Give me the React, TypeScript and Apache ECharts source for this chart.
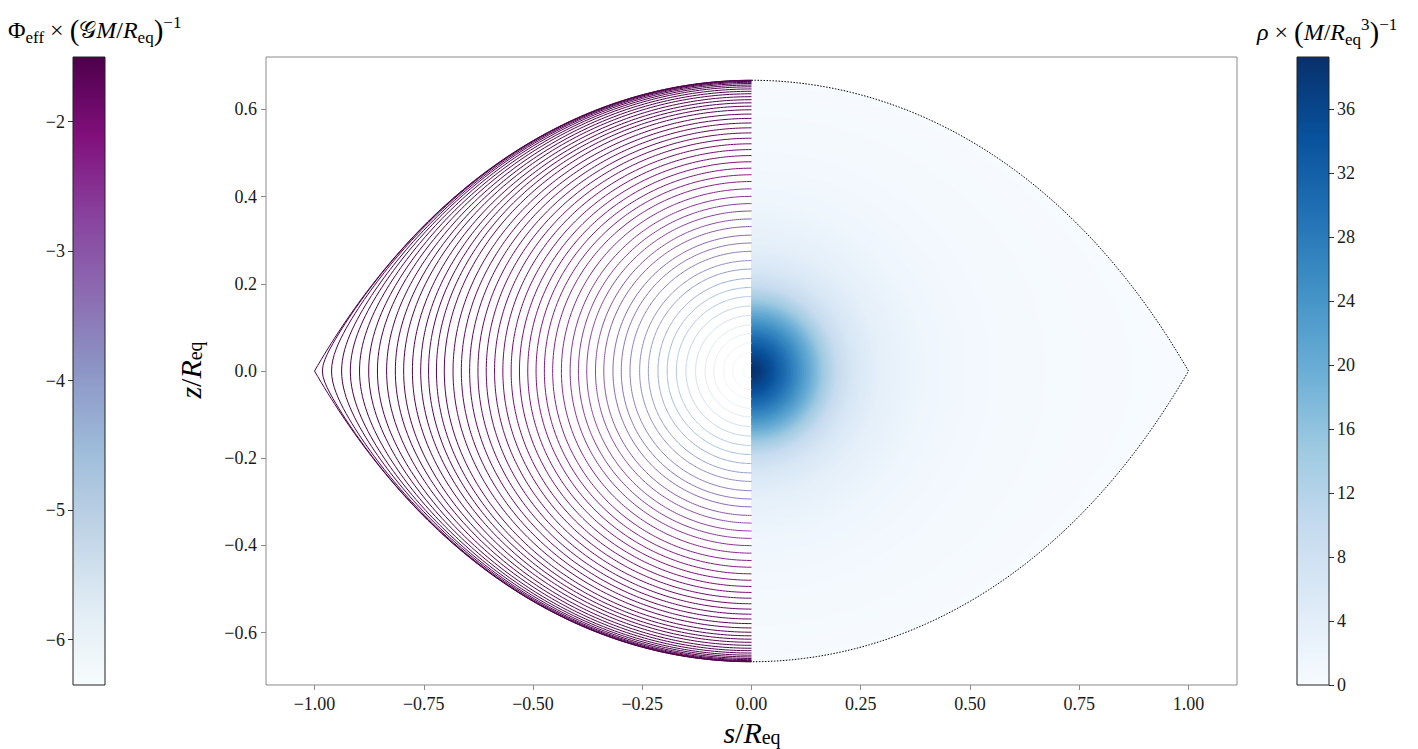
import React, { useEffect, useRef } from "react";
import * as echarts from "echarts";

// ---------- data ----------
const X_TICKS = [-1, -0.75, -0.5, -0.25, 0, 0.25, 0.5, 0.75, 1];
const Y_TICKS = [-0.6, -0.4, -0.2, 0, 0.2, 0.4, 0.6];
const PHI_TICKS = [-6, -5, -4, -3, -2];
const RHO_TICKS = [0, 4, 8, 12, 16, 20, 24, 28, 32, 36];
const X_RANGE = [-1.111, 1.111];
const Y_RANGE = [-0.72, 0.72];
const PHI_RANGE = [-6.35, -1.5];
const RHO_RANGE = [0, 39.25];

// equatorial radii (s / R_eq) of the plotted equipotential contours
const CONTOUR_EQ_RADII = [
  0.018, 0.043, 0.064, 0.086, 0.106, 0.128, 0.15, 0.172, 0.193, 0.214,
  0.236, 0.256, 0.278, 0.298, 0.317, 0.338, 0.357, 0.377, 0.396, 0.415,
  0.435, 0.455, 0.474, 0.493, 0.512, 0.531, 0.55, 0.569, 0.588, 0.607,
  0.626, 0.645, 0.664, 0.683, 0.703, 0.721, 0.739, 0.757, 0.776, 0.796,
  0.815, 0.835, 0.856, 0.876, 0.897, 0.918, 0.938, 0.961, 0.982, 1.0,
];

const RHO_PROFILE_S = [0, 0.02, 0.05, 0.08, 0.11, 0.14, 0.17, 0.2, 0.24, 0.3, 0.4, 0.55, 0.75, 1.0];
const RHO_PROFILE_V = [39.2, 38, 34.5, 30, 25, 19.5, 14, 9.5, 6, 3.5, 1.6, 0.75, 0.3, 0];

// colormaps
const BUPU = ["#f7fcfd", "#e0ecf4", "#bfd3e6", "#9ebcda", "#8c96c6", "#8c6bb1", "#88419d", "#810f7c", "#4d004b"];
const BLUES = ["#f7fbff", "#deebf7", "#c6dbef", "#9ecae1", "#6baed6", "#4292c6", "#2171b5", "#08519c", "#08306b"];

// mass model: Gaussian core + critical rotation (Omega^2 = GM/R_eq^3)
const CORE_RADIUS = 0.178;
const OMEGA2 = 1;

const SERIF = "'Liberation Serif','DejaVu Serif',serif";

// ---------- helpers ----------
function erf(x: number) {
  const sgn = x < 0 ? -1 : 1;
  const ax = Math.abs(x);
  const t = 1 / (1 + 0.3275911 * ax);
  const y = 1 - ((((1.061405429 * t - 1.453152027) * t + 1.421413741) * t - 0.284496736) * t + 0.254829592) * t * Math.exp(-ax * ax);
  return sgn * y;
}
function phiG(r: number) {
  if (r < 1e-6) return -2 / (Math.sqrt(Math.PI) * CORE_RADIUS);
  return -erf(r / CORE_RADIUS) / r;
}
function phiEff(r: number, sinT: number) {
  return phiG(r) - 0.5 * OMEGA2 * r * r * sinT * sinT;
}
function levelOf(s: number) {
  return phiEff(s, 1);
}
function radiusAt(L: number, sinT: number) {
  let lo = 0, hi = 1;
  if (phiEff(hi, sinT) <= L) return hi;
  for (let i = 0; i < 50; i++) {
    const m = 0.5 * (lo + hi);
    if (phiEff(m, sinT) < L) lo = m; else hi = m;
  }
  return 0.5 * (lo + hi);
}
const N_THETA = 240;
function curve(s: number, side: number): number[][] {
  const L = levelOf(s);
  const pts: number[][] = [];
  for (let i = 0; i <= N_THETA; i++) {
    const th = (Math.PI * i) / N_THETA;
    const sinT = Math.sin(th);
    const r = i === N_THETA / 2 ? s : radiusAt(L, sinT);
    pts.push([side * r * sinT, r * Math.cos(th)]);
  }
  return pts;
}
function hexToRgb(h: string) {
  return [parseInt(h.slice(1, 3), 16), parseInt(h.slice(3, 5), 16), parseInt(h.slice(5, 7), 16)];
}
function cmap(stops: string[], t: number) {
  const tt = Math.min(1, Math.max(0, t)) * (stops.length - 1);
  const i = Math.min(stops.length - 2, Math.floor(tt));
  const f = tt - i;
  const a = hexToRgb(stops[i]), b = hexToRgb(stops[i + 1]);
  const c = a.map((v, k) => Math.round(v + (b[k] - v) * f));
  return `rgb(${c[0]},${c[1]},${c[2]})`;
}
function rhoAt(s: number) {
  for (let i = 0; i < RHO_PROFILE_S.length - 1; i++) {
    if (s <= RHO_PROFILE_S[i + 1]) {
      const f = (s - RHO_PROFILE_S[i]) / (RHO_PROFILE_S[i + 1] - RHO_PROFILE_S[i]);
      return RHO_PROFILE_V[i] + f * (RHO_PROFILE_V[i + 1] - RHO_PROFILE_V[i]);
    }
  }
  return RHO_PROFILE_V[RHO_PROFILE_V.length - 1];
}
const fmt = (v: number, d: number) => (v < -1e-9 ? "\u2212" : "") + Math.abs(v).toFixed(d);

// ---------- geometry built from the data ----------
const contourCurves = CONTOUR_EQ_RADII.map((s) => curve(s, -1));
const contourColors = CONTOUR_EQ_RADII.map((s) =>
  cmap(BUPU, (levelOf(s) - PHI_RANGE[0]) / (PHI_RANGE[1] - PHI_RANGE[0]))
);
const SHELL_COUNT = 200;
const shellS: number[] = [];
for (let k = SHELL_COUNT; k >= 1; k--) shellS.push(k / SHELL_COUNT);
const shellCurves = shellS.map((s) => curve(s, 1));
const shellColors = shellS.map((s) => cmap(BLUES, rhoAt(s) / RHO_RANGE[1]));
const surfaceCurve = curve(1, 1);

export default function App() {
  const ref = useRef<HTMLDivElement>(null);
  useEffect(() => {
    if (!ref.current) return;
    const chart = echarts.init(ref.current, undefined, { renderer: "svg" });
    const tickStyle = { fontFamily: SERIF, fontSize: 18, color: "#1a1a1a" };
    const base = { fontFamily: SERIF, fontSize: 24, color: "#111", lineHeight: 32, verticalAlign: "middle" };
    const it = { ...base, fontStyle: "italic" };
    const sub = { fontFamily: SERIF, fontSize: 17, color: "#111", lineHeight: 16, verticalAlign: "bottom" };
    const sup = { fontFamily: SERIF, fontSize: 17, color: "#111", lineHeight: 16, verticalAlign: "top" };
    const richT = {
      n: base, i: it, b: sub, p: sup,
      big: { ...base, fontSize: 29 },
    };
    const axBase = { fontFamily: SERIF, fontSize: 30, color: "#111", lineHeight: 30, verticalAlign: "middle" };
    const richA = {
      n: axBase,
      i: { ...axBase, fontStyle: "italic" },
      b: { fontFamily: SERIF, fontSize: 20, color: "#111", lineHeight: 16, verticalAlign: "bottom" },
    };

    const colorbarSeries = (gi: number, range: number[], stops: string[]) => ({
      type: "custom",
      xAxisIndex: gi,
      yAxisIndex: gi,
      silent: true,
      data: [[0, range[0]]],
      renderItem: (_p: any, api: any) => {
        const p1 = api.coord([0, range[1]]);
        const p2 = api.coord([1, range[0]]);
        const cs = stops.map((c, k) => ({ offset: 1 - k / (stops.length - 1), color: c })).reverse();
        return {
          type: "rect",
          shape: { x: p1[0], y: p1[1], width: p2[0] - p1[0], height: p2[1] - p1[1] },
          style: { fill: new echarts.graphic.LinearGradient(0, 0, 0, 1, cs), stroke: "#222", lineWidth: 1 },
        };
      },
    });

    const axisCommon = {
      axisLine: { show: false, onZero: false },
      splitLine: { show: false },
    };

    const option: any = {
      animation: false,
      grid: [
        { left: 266, top: 57, width: 971, height: 628, show: true, borderColor: "#8a8a8a", borderWidth: 1, backgroundColor: "transparent" },
        { left: 73, top: 57, width: 32, height: 628 },
        { left: 1297, top: 57, width: 32, height: 628 },
      ],
      xAxis: [
        {
          gridIndex: 0, type: "value", min: X_RANGE[0], max: X_RANGE[1], position: "bottom", ...axisCommon,
          axisTick: { show: true, customValues: X_TICKS, length: 5, lineStyle: { color: "#8a8a8a" } },
          axisLabel: { customValues: X_TICKS, formatter: (v: number) => fmt(v, 2), margin: 10, ...tickStyle },
        },
        { gridIndex: 1, type: "value", min: 0, max: 1, show: false },
        { gridIndex: 2, type: "value", min: 0, max: 1, show: false },
      ],
      yAxis: [
        {
          gridIndex: 0, type: "value", min: Y_RANGE[0], max: Y_RANGE[1], position: "left", ...axisCommon,
          axisTick: { show: true, customValues: Y_TICKS, length: 5, lineStyle: { color: "#8a8a8a" } },
          axisLabel: { customValues: Y_TICKS, formatter: (v: number) => fmt(v, 1), margin: 9, ...tickStyle },
        },
        {
          gridIndex: 1, type: "value", min: PHI_RANGE[0], max: PHI_RANGE[1], position: "left", ...axisCommon,
          axisTick: { show: true, customValues: PHI_TICKS, length: 5, lineStyle: { color: "#333" } },
          axisLabel: { customValues: PHI_TICKS, formatter: (v: number) => fmt(v, 0), margin: 8, ...tickStyle },
        },
        {
          gridIndex: 2, type: "value", min: RHO_RANGE[0], max: RHO_RANGE[1], position: "right", ...axisCommon,
          axisTick: { show: true, customValues: RHO_TICKS, length: 5, lineStyle: { color: "#333" } },
          axisLabel: { customValues: RHO_TICKS, formatter: (v: number) => fmt(v, 0), margin: 8, ...tickStyle },
        },
      ],
      series: [
        {
          type: "custom", xAxisIndex: 0, yAxisIndex: 0, silent: true, z: 1,
          data: shellS.map((s) => [s, 0]),
          renderItem: (p: any, api: any) => ({
            type: "polygon",
            shape: { points: shellCurves[p.dataIndex].map((q) => api.coord(q)) },
            style: { fill: shellColors[p.dataIndex], stroke: null },
          }),
        },
        {
          type: "custom", xAxisIndex: 0, yAxisIndex: 0, silent: true, z: 2,
          data: CONTOUR_EQ_RADII.map((s) => [-s, 0]),
          renderItem: (p: any, api: any) => ({
            type: "polyline",
            shape: { points: contourCurves[p.dataIndex].map((q) => api.coord(q)) },
            style: { stroke: contourColors[p.dataIndex], lineWidth: 1, fill: null },
          }),
        },
        {
          type: "custom", xAxisIndex: 0, yAxisIndex: 0, silent: true, z: 3,
          data: [[1, 0]],
          renderItem: (_p: any, api: any) => ({
            type: "polyline",
            shape: { points: surfaceCurve.map((q) => api.coord(q)) },
            style: { stroke: "#000", lineWidth: 1, lineDash: [1.5, 1.5], fill: null },
          }),
        },
        colorbarSeries(1, PHI_RANGE, BUPU),
        colorbarSeries(2, RHO_RANGE, BLUES),
      ],
      graphic: [
        {
          type: "text", left: 8, top: 14, silent: true,
          style: { text: "{n|\u03a6}{b|eff}{n| \u00d7 }{big|(}{n|\ud835\udca2}{i|M}{n|/}{i|R}{b|eq}{big|)}{p|\u22121}", rich: richT },
        },
        {
          type: "text", left: 1257, top: 16, silent: true,
          style: { text: "{i|\u03c1}{n| \u00d7 }{big|(}{i|M}{n|/}{i|R}{b|eq}{p|3}{big|)}{p|\u22121}", rich: richT },
        },
        {
          type: "text", x: 752, y: 732, silent: true,
          style: { text: "{i|s}{n|/}{i|R}{b|eq}", rich: richA, align: "center", verticalAlign: "middle" },
        },
        {
          type: "text", x: 190, y: 370, rotation: Math.PI / 2, silent: true,
          style: { text: "{i|z}{n|/}{i|R}{b|eq}", rich: richA, align: "center", verticalAlign: "middle" },
        },
      ],
    };
    chart.setOption(option);
    return () => chart.dispose();
  }, []);
  return <div ref={ref} style={{ position: "fixed", left: 0, top: 0, width: 1418, height: 749, background: "#fff" }} />;
}
